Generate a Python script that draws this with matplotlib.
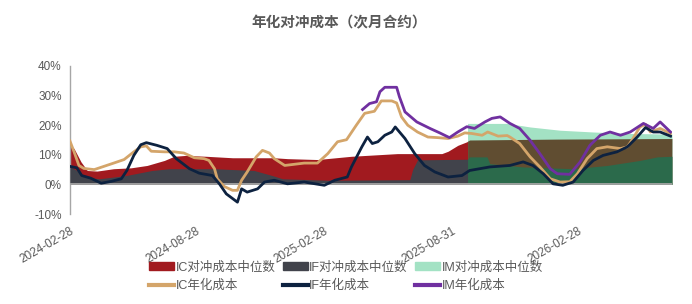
import numpy as np
import pandas as pd
import matplotlib
matplotlib.use('Agg')
import matplotlib.pyplot as plt
from matplotlib.patches import Patch
from matplotlib.lines import Line2D

plt.rcParams['font.family'] = ['Liberation Sans', 'Noto Sans CJK SC']

# x positions are day offsets from the first date (2024-02-28)
start = pd.Timestamp('2024-02-28')
tick_labels = ['2024-02-28', '2024-08-28', '2025-02-28', '2025-08-31', '2026-02-28']
last_day = 866

# annualised cost lines (%)
ic_days = [0, 6, 13, 20, 35, 49, 63, 78, 92, 102, 110, 117, 136, 150, 164, 179, 193, 200, 208, 212,
           222, 234, 241, 247, 255, 268, 277, 287, 294, 309, 337, 356, 371, 385, 398, 412, 424, 438,
           448, 463, 470, 477, 486, 500, 515, 529, 544, 558, 568, 578, 593, 601, 616, 629, 633, 647,
           662, 676, 691, 705, 719, 730, 744, 758, 773, 792, 802, 810, 820, 828, 835, 849, 864]
ic_cost = [14.7, 11, 6.4, 5.4, 5.0, 6.1, 7.2, 8.4, 11, 12.7, 13.0, 11.2, 11, 11, 10.6, 9, 8.7, 8.1, 5.3, 1.9,
           -0.7, -2, -2, 1.4, 4.2, 9.3, 11.5, 10.6, 8.7, 6.4, 7.2, 7.2, 10.4, 14.4, 15.1, 20, 24, 24.7,
           28.2, 28.2, 27.5, 22.8, 20, 17.7, 16, 15.8, 15.5, 16.3, 17.4, 17.2, 16.6, 17.7, 16.3, 16.5, 16, 13.8,
           9.3, 5.9, 1.9, 0.8, 0.9, 3.6, 8.7, 12.1, 12.7, 12.1, 12.7, 15.5, 19.4, 20.3, 17.7, 18.9, 17.2]

if_days = [0, 10, 17, 30, 45, 59, 74, 82, 92, 102, 110, 125, 140, 153, 172, 186, 205, 215, 225, 241,
           247, 255, 270, 280, 294, 313, 337, 366, 381, 399, 405, 420, 428, 435, 443, 453, 463, 468,
           482, 496, 510, 525, 544, 564, 575, 604, 633, 652, 666, 681, 695, 709, 724, 738, 753, 767,
           787, 802, 816, 828, 839, 849, 864]
if_cost = [6.1, 5.6, 3, 2.1, 0.4, 1, 1.9, 4.7, 9.8, 13.4, 14.1, 13.2, 12.1, 8.7, 5.3, 3.8, 3, 0.2, -3.2, -6,
           -1.5, -2.6, -1.5, 0.8, 1.4, 0.2, 0.8, -0.3, 1.4, 2.5, 5.9, 12.7, 16, 13.8, 14.4, 16.6, 17.7, 19.4,
           15.5, 10.4, 6.4, 4.2, 2.5, 3, 4.7, 5.9, 6.4, 7.6, 6.4, 3.6, 0.2, -0.3, 0.8, 4.7, 8.1, 9.8,
           11, 12.7, 16, 19.2, 17.7, 17.7, 16.3]

im_days = [421, 431, 441, 446, 453, 470, 474, 482, 499, 518, 532, 546, 558, 571, 582, 597, 607, 619,
           633, 647, 662, 676, 691, 701, 719, 734, 748, 763, 777, 792, 806, 825, 839, 849, 864]
im_cost = [25.3, 27.3, 27.9, 31.3, 32.8, 32.8, 29.6, 24.5, 21.1, 18.9, 17.4, 15.8, 17.7, 19.5, 18.9, 21.1, 22.3, 22.8,
           20.6, 18.9, 14.9, 10.4, 5.3, 3.6, 3.4, 7.6, 13.2, 16.6, 17.7, 16.6, 17.7, 20.6, 18.9, 21.1, 17.7]

# median hedge cost areas (%)
ic_med_days = [0, 6, 16, 25, 39, 63, 88, 111, 136, 150, 167, 196, 234, 294, 313, 356, 405, 471, 535,
               544, 558, 571, 572, 575, 700, 866]
ic_med = [13.2, 12.1, 7.6, 4.7, 4.5, 5.3, 5.6, 6.4, 8.1, 9.5, 9.8, 9.5, 9, 9, 8.7, 8.4, 9.5, 10.4, 10.4,
          11.2, 13.2, 14.4, 14.6, 15.0, 15.3, 15.5]

if_med_days = [0, 10, 20, 42, 81, 118, 143, 176, 208, 265, 291, 306, 373, 489, 493, 500, 572, 575, 600,
               604, 652, 724, 773, 820, 845, 866]
if_med = [6, 4.7, 2.5, 1.9, 3, 4.7, 5.3, 5.3, 5.3, 4.7, 3, 1.9, 1.4, 1.6, 5, 8.3, 8.5, 9.3, 9.3,
          7, 5.9, 5.3, 6.4, 8.1, 9.3, 9.5]

im_med_days = [572, 629, 662, 705, 753, 806, 866]
im_med = [20.6, 20.6, 19.4, 18.3, 17.7, 17.2, 17.0]


def to_dates(days):
    return start + pd.to_timedelta(np.array(days), unit='D')


fig = plt.figure(figsize=(6.92, 3.04), dpi=100)
ax = fig.add_axes([0.101, 0.296, 0.870, 0.487])

im_start = im_med_days[0]
ic_md = np.array(ic_med_days)
if_md = np.array(if_med_days)

# IM median drawn first, the other medians change tone where it lies beneath
ax.fill_between(to_dates(im_med_days), 0, im_med, color='#a3e2c4', lw=0, zorder=1)
ax.fill_between(to_dates(ic_med_days), 0, ic_med, where=ic_md <= im_start, color='#a11a1f', lw=0, zorder=2)
ax.fill_between(to_dates(ic_med_days), 0, ic_med, where=ic_md >= im_start, color='#604d31', lw=0, zorder=2)
ax.fill_between(to_dates(if_med_days), 0, if_med, where=if_md <= im_start, color='#41434b', lw=0, zorder=3)
ax.fill_between(to_dates(if_med_days), 0, if_med, where=if_md >= im_start, color='#2b6a4b', lw=0, zorder=3)

ax.axhline(0, color='#a6a6a6', lw=1.3, zorder=4)

ax.plot(to_dates(ic_days), ic_cost, color='#d4a56a', lw=2, zorder=5)
ax.plot(to_dates(if_days), if_cost, color='#0d2240', lw=2, zorder=6)
ax.plot(to_dates(im_days), im_cost, color='#7030a0', lw=2, zorder=5)

ax.set_xlim(start, to_dates([last_day])[0])
ax.set_ylim(-10, 40)
ax.set_yticks([-10, 0, 10, 20, 30, 40])
ax.set_yticklabels([f'{v}%' for v in [-10, 0, 10, 20, 30, 40]], fontsize=8.5, color='#595959')
ax.set_xticks(pd.to_datetime(tick_labels))
ax.set_xticklabels(tick_labels, rotation=30, ha='right', rotation_mode='anchor',
                   fontsize=8.5, color='#595959')
ax.tick_params(axis='both', length=0)
ax.tick_params(axis='x', pad=8)
ax.tick_params(axis='y', pad=6)

for side in ['top', 'right', 'bottom']:
    ax.spines[side].set_visible(False)
ax.spines['left'].set_color('#a6a6a6')
ax.spines['left'].set_linewidth(1)

fig.text(0.49, 0.925, '年化对冲成本（次月合约）', ha='center', va='center',
         fontsize=10.5, fontweight='bold', color='#595959',
         family=['Noto Sans CJK SC', 'DejaVu Sans'])

handles = [Patch(color='#a11a1f'), Line2D([], [], color='#d4a56a', lw=3),
           Patch(color='#41434b'), Line2D([], [], color='#0d2240', lw=3),
           Patch(color='#a3e2c4'), Line2D([], [], color='#7030a0', lw=3)]
labels = ['IC对冲成本中位数', 'IC年化成本', 'IF对冲成本中位数', 'IF年化成本', 'IM对冲成本中位数', 'IM年化成本']
fig.legend(handles, labels, ncol=3, loc='center', bbox_to_anchor=(0.5, 0.09), frameon=False,
           fontsize=9, labelcolor='#595959', handlelength=2.0, handleheight=0.6,
           handletextpad=0.1, columnspacing=0.6, labelspacing=0.45)

fig.savefig('out.png', dpi=100)
